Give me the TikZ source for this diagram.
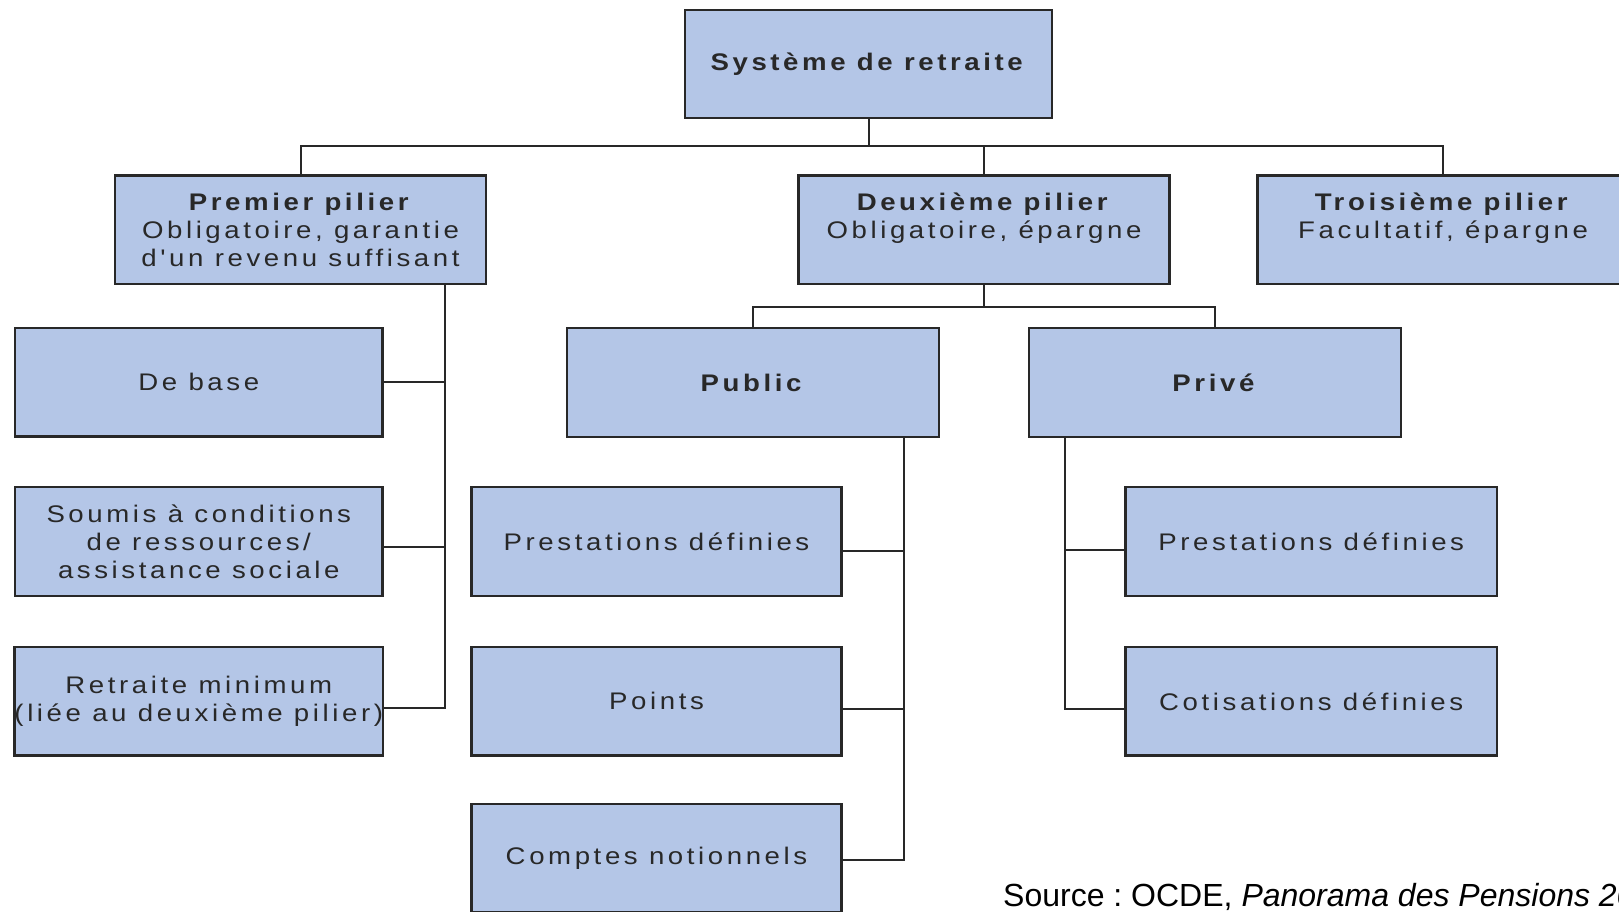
\documentclass[tikz,border=0pt]{standalone}
\usepackage{fontspec}
\setmainfont{Liberation Sans}
\newfontfamily\boxfont[LetterSpace=15, FakeStretch=1.15]{Liberation Sans}
\usetikzlibrary{calc}
\definecolor{pilierBlue}{RGB}{180,198,231}
\definecolor{inkGray}{RGB}{40,40,40}
\frenchspacing

\begin{document}
\begin{tikzpicture}[x = 1pt, y = -1pt]
\tikzstyle{boxStyle} = [shape = rectangle, draw = inkGray, line width = 2.4pt, fill = pilierBlue, text = inkGray, minimum width = 371pt, minimum height = 108.5pt, inner sep = 0pt, align = center, font = \boxfont\fontsize{24}{28}\selectfont]
\tikzstyle{linkStyle} = [draw = inkGray, line width = 2pt]
\useasboundingbox (0,0) rectangle (1619,911);
% top
\node[boxStyle, minimum width = 367pt] (sys) at (868.5, 64) {\textbf{Système de retraite}};
% pillars
\node[boxStyle] (p1) at (300.5, 229.8) {\textbf{Premier pilier}\\Obligatoire, garantie\\d'un revenu suffisant};
\node[boxStyle] (p2) at (984, 229.8) {\textbf{Deuxième pilier}\\Obligatoire, épargne\\~};
\node[boxStyle] (p3) at (1443, 229.8) {\textbf{Troisième pilier}\\Facultatif, épargne\\~};
% first pillar
\node[boxStyle, minimum width = 367.5pt] (base) at (198.8, 382.4) {De base};
\node[boxStyle, minimum width = 367.5pt] (soum) at (198.8, 541.5) {Soumis à conditions\\de ressources/\\assistance sociale};
\node[boxStyle, minimum width = 367.5pt] (retr) at (198.8, 701.3) {Retraite minimum\\(liée au deuxième pilier)};
% second pillar
\node[boxStyle, minimum width = 372pt] (pub) at (752.8, 382.5) {\textbf{Public}};
\node[boxStyle, minimum width = 372pt] (priv) at (1215.2, 382.5) {\textbf{Privé}};
\node[boxStyle, minimum width = 370pt] (prestA) at (656.5, 541.5) {Prestations définies};
\node[boxStyle, minimum width = 370pt] (pts) at (656.5, 701.3) {Points};
\node[boxStyle, minimum width = 370pt] (compt) at (656.5, 858.3) {Comptes notionnels};
\node[boxStyle, minimum width = 371.6pt] (prestB) at (1311.2, 541.5) {Prestations définies};
\node[boxStyle, minimum width = 371.6pt] (cotis) at (1311.2, 701.3) {Cotisations définies};
% source
\node[anchor = base west, inner sep = 0pt, font = \fontsize{32}{36}\selectfont] (src) at (1003, 906.7) {Source : OCDE, \textit{Panorama des Pensions 2011}};

% links
\coordinate (busTop) at (0, 145.7);
\coordinate (busMid) at (0, 307.3);
\draw[linkStyle] (p1.north) |- (busTop -| p3.north) -- (p3.north);
\draw[linkStyle] (sys.south) -- (sys.south |- busTop);
\draw[linkStyle] (p2.north) -- (p2.north |- busTop);
\draw[linkStyle] (pub.north) |- (busMid -| priv.north) -- (priv.north);
\draw[linkStyle] (p2.south) -- (p2.south |- busMid);

\coordinate (trunkA) at ($(p1.south west)+(331.5,0)$);
\draw[linkStyle] (trunkA) |- ([yshift=-7pt]retr.east);
\draw[linkStyle] (base.east) -- (base.east -| trunkA);
\draw[linkStyle] ([yshift=-5.5pt]soum.east) -- ([yshift=-5.5pt]soum.east -| trunkA);

\coordinate (trunkB) at ($(pub.south east)+(-36.3,0)$);
\draw[linkStyle] (trunkB) |- ([yshift=-2pt]compt.east);
\draw[linkStyle] ([yshift=-9pt]prestA.east) -- ([yshift=-9pt]prestA.east -| trunkB);
\draw[linkStyle] ([yshift=-8pt]pts.east) -- ([yshift=-8pt]pts.east -| trunkB);

\coordinate (trunkC) at ($(priv.south west)+(36.7,0)$);
\draw[linkStyle] (trunkC) |- ([yshift=-8pt]cotis.west);
\draw[linkStyle] ([yshift=-8.5pt]prestB.west) -- ([yshift=-8.5pt]prestB.west -| trunkC);
\end{tikzpicture}
\end{document}
